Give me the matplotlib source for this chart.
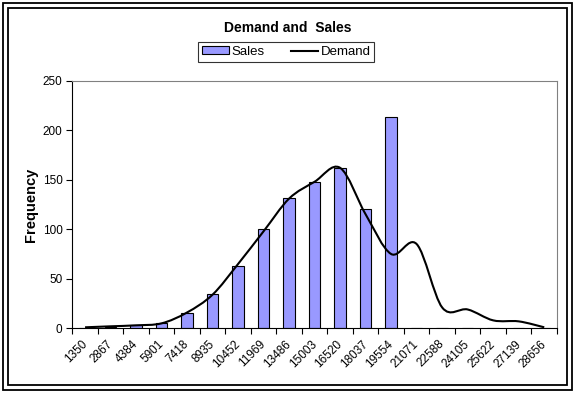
import matplotlib
matplotlib.use("Agg")
import matplotlib.pyplot as plt
import matplotlib.transforms as mtransforms
from matplotlib.path import Path
from matplotlib.patches import PathPatch, Rectangle, Patch
from matplotlib.lines import Line2D
import numpy as np

plt.rcParams['font.family'] = ['Liberation Sans', 'DejaVu Sans']

categories = ["1350", "2867", "4384", "5901", "7418", "8935", "10452", "11969",
              "13486", "15003", "16520", "18037", "19554", "21071", "22588",
              "24105", "25622", "27139", "28656"]
sales = [0, 1, 3, 5, 15, 35, 63, 100, 132, 148, 162, 120, 213, 0, 0, 0, 0, 0, 0]
demand = [1, 2, 3, 5, 16, 34, 65, 98, 131, 148, 162, 115, 75, 85, 21, 19, 8, 7, 1]
yticks = [0, 50, 100, 150, 200, 250]

W, H = 578, 395
fig = plt.figure(figsize=(W / 100, H / 100), dpi=100)

def fx(x):
    return x / W

def fy(y):
    return 1 - y / H

# frame borders
fig.patches.append(Rectangle((fx(2.5), fy(390)), fx(572) - fx(2.5), fy(2.5) - fy(390),
                             transform=fig.transFigure, fill=False, lw=1.3, ec='black'))
fig.patches.append(Rectangle((fx(8), fy(385)), fx(566.5) - fx(8), fy(8) - fy(385),
                             transform=fig.transFigure, fill=False, lw=1.3, ec='black'))

ax = fig.add_axes([fx(72.3), fy(328.3), fx(557) - fx(72.3), fy(80.7) - fy(328.3)])

x = np.arange(len(categories))
ax.bar(x, sales, width=0.45, color='#9999FF', edgecolor='black', linewidth=0.8, zorder=2)

# smoothed demand line (Catmull-Rom style Bezier through the data points)
pts = np.column_stack([x, demand]).astype(float)
n = len(pts)
verts = [tuple(pts[0])]
codes = [Path.MOVETO]
for i in range(n - 1):
    p0 = pts[i - 1] if i > 0 else pts[i]
    p1 = pts[i]
    p2 = pts[i + 1]
    p3 = pts[i + 2] if i + 2 < n else pts[i + 1]
    c1 = p1 + (p2 - p0) / 6.0
    c2 = p2 - (p3 - p1) / 6.0
    verts += [tuple(c1), tuple(c2), tuple(p2)]
    codes += [Path.CURVE4, Path.CURVE4, Path.CURVE4]
ax.add_patch(PathPatch(Path(verts, codes), fill=False, ec='black', lw=1.5, zorder=3))

ax.set_xlim(-0.5, len(categories) - 0.5)
ax.set_ylim(0, 250)
ax.set_yticks(yticks)
ax.set_yticklabels([str(v) for v in yticks], fontsize=8.5)
ax.set_xticks(x)
ax.set_xticklabels(categories, fontsize=8.5, rotation=45, ha='right', rotation_mode='anchor')
ax.set_xticks(np.arange(-0.5, len(categories)), minor=True)
ax.tick_params(axis='x', which='major', length=0, pad=7)
ax.tick_params(axis='x', which='minor', length=4, width=0.8, direction='out')
ax.tick_params(axis='y', length=4, width=0.8, direction='out', pad=3)

shift = mtransforms.ScaledTranslation(-4 / 100, 0, fig.dpi_scale_trans)
for lbl in ax.get_xticklabels():
    lbl.set_transform(lbl.get_transform() + shift)

for s in ['top', 'right']:
    ax.spines[s].set_color('#808080')
    ax.spines[s].set_linewidth(0.8)
for s in ['left', 'bottom']:
    ax.spines[s].set_color('black')
    ax.spines[s].set_linewidth(0.8)

fig.text(fx(31), fy(205), 'Frequency', rotation=90, ha='center', va='center',
         fontsize=10.5, fontweight='bold')
fig.text(fx(287.5), fy(27.5), 'Demand and  Sales', ha='center', va='center',
         fontsize=10, fontweight='bold')

handles = [Patch(facecolor='#9999FF', edgecolor='black', linewidth=0.8),
           Line2D([0], [0], color='black', lw=1.5)]
leg = fig.legend(handles, ['Sales', 'Demand'], ncol=2, fontsize=9.5,
                 loc='center', bbox_to_anchor=(fx(286), fy(52)),
                 frameon=True, fancybox=False, edgecolor='black',
                 handlelength=2.05, handleheight=0.55, handletextpad=0.2,
                 columnspacing=2.0, borderpad=0.3, borderaxespad=0)
leg.get_frame().set_linewidth(0.8)

fig.savefig('out.png', dpi=100)
